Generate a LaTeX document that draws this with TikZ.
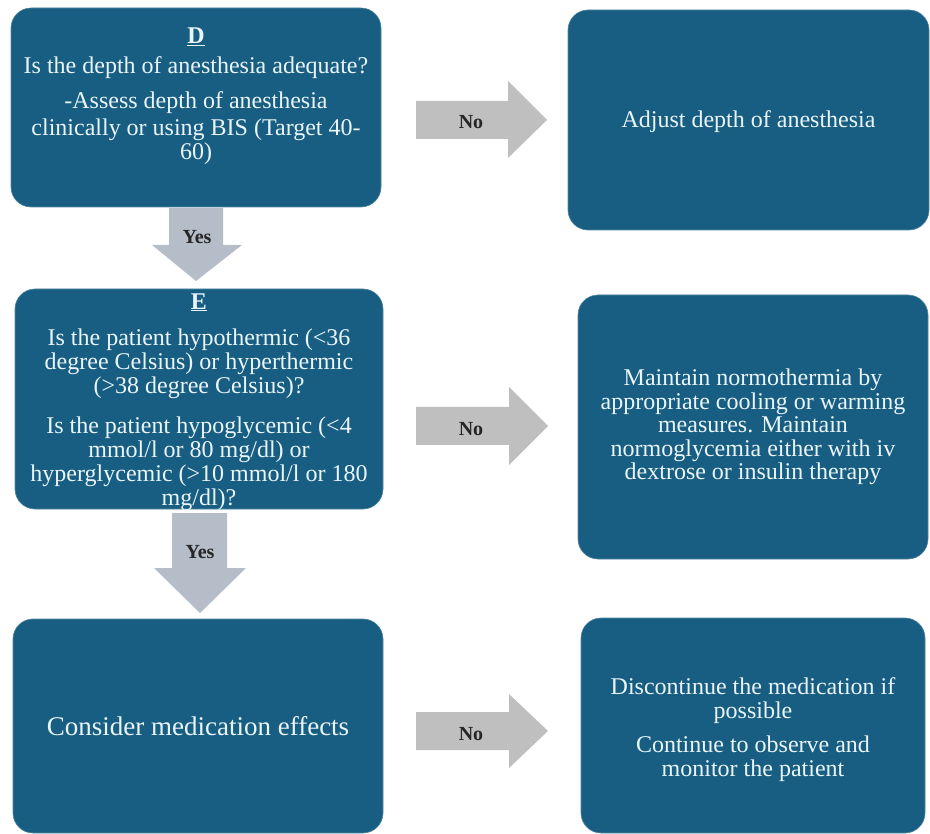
\documentclass[tikz,border=0pt]{standalone}
\usepackage{fontspec}
\setmainfont{Liberation Serif}
\definecolor{boxblue}{HTML}{185E82}
\definecolor{boxtext}{HTML}{EAF5F9}
\definecolor{rgray}{HTML}{BFBFBF}
\definecolor{dgray}{HTML}{B5BDC9}
\definecolor{lbl}{HTML}{262626}
\tikzset{
  box/.style={fill=boxblue, draw=boxblue!75!white, line width=0.6pt, rounded corners=20pt,
              inner sep=0pt, text=boxtext, align=center, font=\fontsize{24}{24}\selectfont},
  boxtxt/.style={inner sep=0pt, text=boxtext, align=center, font=\fontsize{24}{24}\selectfont},
  rightblock/.style={fill=rgray},
  downblock/.style={fill=dgray},
  lbltxt/.style={inner sep=0pt, text=lbl, font=\fontsize{20}{20}\selectfont\bfseries},
}
\begin{document}
\begin{tikzpicture}[x=1pt,y=-1pt]
\useasboundingbox (0,0) rectangle (930,834);

% boxes
\node[box, minimum width=370pt, minimum height=199pt] (D) at (196,107.5) {};
\node[boxtxt, anchor=north] (Dtext) at (196,28) {\textbf{\underline{D}}\\[6pt]
Is the depth of anesthesia adequate?\\[11pt]
-Assess depth of anesthesia\\[3pt]
clinically or using BIS (Target 40-\\
60)};
\node[box, minimum width=361pt, minimum height=220pt] (adj) at (748.5,120) {};
\node[boxtxt] (adjtext) at (748.5,122) {Adjust depth of anesthesia};

\node[box, minimum width=368pt, minimum height=220pt] (E) at (199,399) {};
\node[boxtxt] (Etext) at (199,402) {\textbf{\underline{E}}\\[12pt]
Is the patient hypothermic (<36\\
degree Celsius) or hyperthermic\\
(>38 degree Celsius)?\\[16pt]
Is the patient hypoglycemic (<4\\
mmol/l or 80 mg/dl) or\\
hyperglycemic (>10 mmol/l or 180\\
mg/dl)?};
\node[box, minimum width=350pt, minimum height=264pt] (norm) at (753,427) {};
\node[boxtxt, font=\fontsize{24}{23.5}\selectfont] (normtext) at (753,427) {Maintain normothermia by\\
appropriate cooling or warming\\
measures. Maintain\\
normoglycemia either with iv\\
dextrose or insulin therapy};

\node[box, minimum width=370pt, minimum height=214pt, font=\fontsize{27}{28}\selectfont] (med) at (198,726) {Consider medication effects};
\node[box, minimum width=344pt, minimum height=215pt] (disc) at (753,725.5) {};
\node[boxtxt, font=\fontsize{24}{23.5}\selectfont] (disctext) at (753,729.5) {Discontinue the medication if\\
possible\\[11pt]
Continue to observe and\\
monitor the patient};

% right block arrows
\fill[rightblock] (416,101) -- (508,101) -- (508,81) -- (547,120) -- (508,158) -- (508,139) -- (416,139) -- cycle;
\node[lbltxt] (no1) at (471,122) {No};
\fill[rightblock] (416,407) -- (509,407) -- (509,387) -- (548,426) -- (509,465) -- (509,445) -- (416,445) -- cycle;
\node[lbltxt] (no2) at (471,429) {No};
\fill[rightblock] (416,712) -- (509,712) -- (509,694) -- (548,731) -- (509,768) -- (509,750) -- (416,750) -- cycle;
\node[lbltxt] (no3) at (471,734) {No};

% down block arrows
\fill[downblock] (169,208) -- (223,208) -- (223,245) -- (242,245) -- (196,281) -- (152,245) -- (169,245) -- cycle;
\node[lbltxt] (yes1) at (197,237) {Yes};
\fill[downblock] (172,513) -- (227,513) -- (227,568) -- (246,568) -- (200,613) -- (154,568) -- (172,568) -- cycle;
\node[lbltxt] (yes2) at (200,552) {Yes};
\end{tikzpicture}
\end{document}
